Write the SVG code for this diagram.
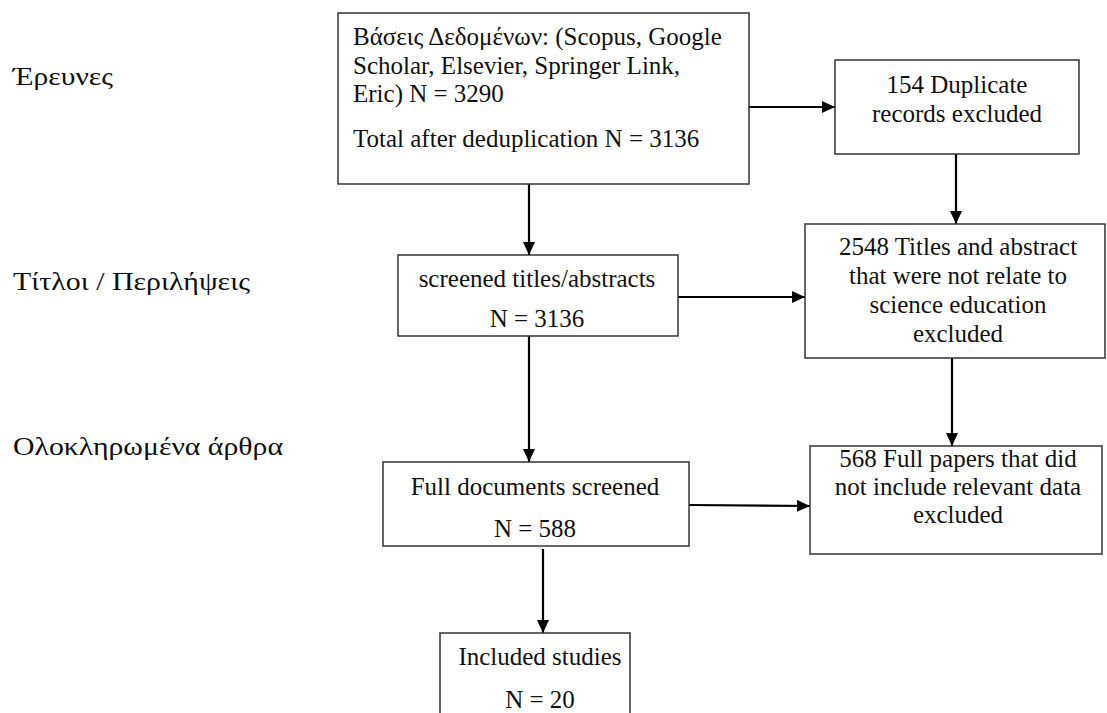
<svg xmlns="http://www.w3.org/2000/svg" width="1107" height="713" viewBox="0 0 1107 713">
<defs>
<marker id="ah" markerUnits="userSpaceOnUse" markerWidth="14" markerHeight="12" refX="13" refY="6" orient="auto">
<path d="M0,0 L13,6 L0,12 Z" fill="#000"/>
</marker>
<style>
.box{fill:#fff;stroke:#333;stroke-width:1.5}
.t{font-family:"Liberation Serif","Times New Roman",serif;font-size:25px;fill:#111}
.c{text-anchor:middle}
.lbl{font-family:"Liberation Serif","Times New Roman",serif;font-size:26px;fill:#111}
.e{stroke:#000;stroke-width:2.2;fill:none;marker-end:url(#ah)}
</style>
</defs>
<rect width="1107" height="713" fill="#fff"/>
<g id="labels">
<text class="lbl" x="13" y="85" textLength="100" lengthAdjust="spacingAndGlyphs">Έρευνες</text>
<text class="lbl" x="13" y="290" textLength="237" lengthAdjust="spacingAndGlyphs">Τίτλοι / Περιλήψεις</text>
<text class="lbl" x="13" y="455" textLength="270" lengthAdjust="spacingAndGlyphs">Ολοκληρωμένα άρθρα</text>
</g>
<g id="connectors">
<path class="e" d="M749,107 L835,107"/>
<path class="e" d="M529,184 L529,255"/>
<path class="e" d="M956,154 L956,224"/>
<path class="e" d="M678,297 L805,297"/>
<path class="e" d="M529,336 L529,462"/>
<path class="e" d="M952,358 L952,446"/>
<path class="e" d="M689,505 L810,506"/>
<path class="e" d="M543,549 L543,633"/>
</g>
<g id="databases">
<rect class="box" x="338" y="13" width="411" height="171"/>
<text class="t" x="353" y="45">Βάσεις Δεδομένων: (Scopus, Google</text>
<text class="t" x="353" y="74">Scholar, Elsevier, Springer Link,</text>
<text class="t" x="353" y="102">Eric) N = 3290</text>
<text class="t" x="353" y="147">Total after deduplication N = 3136</text>
</g>
<g id="duplicates">
<rect class="box" x="835" y="60" width="244" height="94"/>
<text class="t c" x="957" y="93">154 Duplicate</text>
<text class="t c" x="957" y="122">records excluded</text>
</g>
<g id="screened">
<rect class="box" x="398" y="255" width="280" height="81"/>
<text class="t c" x="537" y="287">screened titles/abstracts</text>
<text class="t c" x="537" y="327">N = 3136</text>
</g>
<g id="titles-excluded">
<rect class="box" x="805" y="224" width="300" height="134"/>
<text class="t c" x="958" y="255">2548 Titles and abstract</text>
<text class="t c" x="958" y="284">that were not relate to</text>
<text class="t c" x="958" y="313">science education</text>
<text class="t c" x="958" y="342">excluded</text>
</g>
<g id="fulldocs">
<rect class="box" x="383" y="462" width="306" height="84"/>
<text class="t c" x="535" y="495">Full documents screened</text>
<text class="t c" x="535" y="537">N = 588</text>
</g>
<g id="papers-excluded">
<rect class="box" x="810" y="446" width="292" height="108"/>
<text class="t c" x="958" y="467">568 Full papers that did</text>
<text class="t c" x="958" y="495">not include relevant data</text>
<text class="t c" x="958" y="523">excluded</text>
</g>
<g id="included">
<rect class="box" x="440" y="633" width="190" height="100"/>
<text class="t c" x="540" y="665">Included studies</text>
<text class="t c" x="540" y="708">N = 20</text>
</g>
</svg>
